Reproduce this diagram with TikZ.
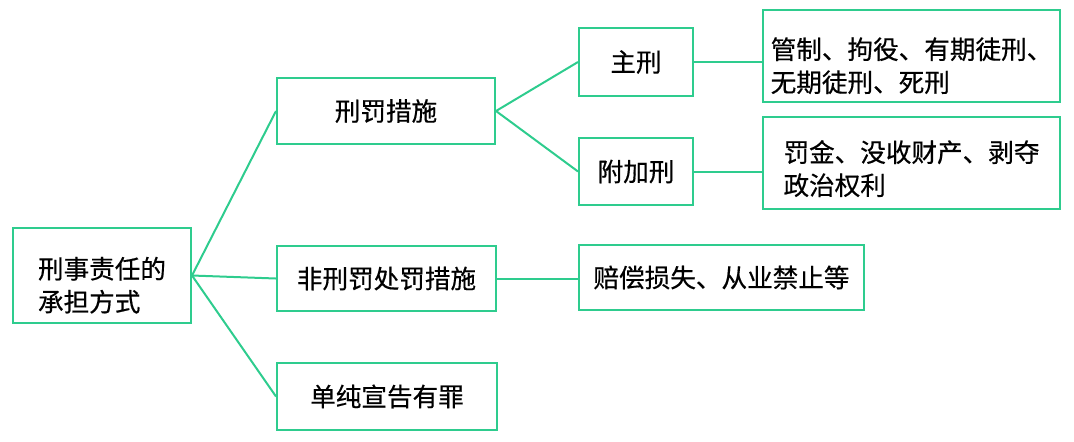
\documentclass[tikz,border=0pt]{standalone}
\usepackage{fontspec}
\setmainfont{Noto Sans CJK SC}[FakeBold=0.5]
\definecolor{linegreen}{RGB}{46,204,142}

\begin{document}
\begin{tikzpicture}[x=0.5pt,y=-0.5pt,
  box/.style={draw=linegreen, line width=1pt, inner sep=0pt, align=left,
    font=\fontsize{12.8}{16.5}\selectfont},
  twoline/.style={text height=37pt},
  link/.style={draw=linegreen, line width=1pt}]

\useasboundingbox (0,0) rectangle (1074,441);

% ===== 各方框 =====
\node[box, twoline, minimum width=89pt, minimum height=47.5pt] (root) at (102,275.5) {刑事责任的\\承担方式};

\node[box, minimum width=109pt, minimum height=33pt] (penal) at (386,111) {刑罚措施};
\node[box, minimum width=109.5pt, minimum height=32.5pt] (nonpenal) at (386.5,278.5) {非刑罚处罚措施};
\node[box, minimum width=110pt, minimum height=33.5pt] (declare) at (387,396.5) {单纯宣告有罪};

\node[box, minimum width=57pt, minimum height=34pt] (mainp) at (636,62) {主刑};
\node[box, minimum width=57pt, minimum height=33.5pt] (addp) at (636,171.5) {附加刑};

\node[box, twoline, minimum width=148.5pt, minimum height=46pt] (mainlist) at (911.5,56) {管制、拘役、有期徒刑、\\无期徒刑、死刑};
\node[box, twoline, text height=33pt, minimum width=148.5pt, minimum height=46pt] (addlist) at (911.5,163) {罚金、没收财产、剥夺\\政治权利};
\node[box, minimum width=142.5pt, minimum height=32.5pt] (comp) at (721.5,277.5) {赔偿损失、从业禁止等};

% ===== 连线 =====
\draw[link] (root.east) -- (penal.west);
\draw[link] (root.east) -- (nonpenal.west);
\draw[link] (root.east) -- (declare.west);

\draw[link] (penal.east) -- (mainp.west);
\draw[link] (penal.east) -- (addp.west);

\draw[link] (mainp.east) -- (mainp.east -| mainlist.west);
\draw[link] (addp.east) -- (addp.east -| addlist.west);
\draw[link] (nonpenal.east) -- (nonpenal.east -| comp.west);

\end{tikzpicture}
\end{document}
